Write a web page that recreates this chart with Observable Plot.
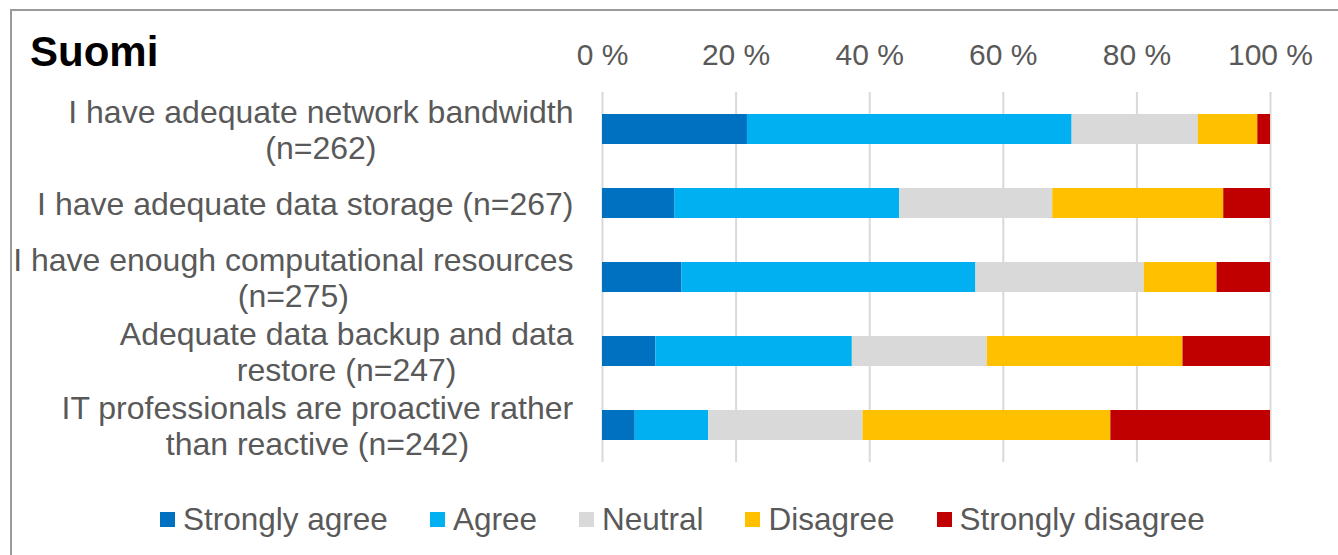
<!DOCTYPE html>
<html>
<head>
<meta charset="utf-8">
<script src="https://cdn.jsdelivr.net/npm/d3@7"></script>
<script src="https://cdn.jsdelivr.net/npm/@observablehq/plot@0.6"></script>
<style>
  html, body { margin: 0; padding: 0; background: #fff; }
  #wrap { position: relative; width: 1338px; height: 555px; overflow: hidden; font-family: "Liberation Sans", Arial, sans-serif; }
  #frame { position: absolute; left: 10px; top: 9px; width: 1340px; height: 560px; border: 2px solid #9a9a9a; box-sizing: border-box; }
  #title { position: absolute; left: 30px; top: 31px; font-size: 42px; line-height: 1; font-weight: bold; color: #000; }
  #chart { position: absolute; left: 0; top: 0; }
  #legend { position: absolute; left: 160px; top: 501px; display: flex; align-items: center; font-size: 31.5px; color: #595959; line-height: 1.15; }
  .item { display: flex; align-items: center; margin-right: 42px; }
  .sw { width: 15px; height: 15px; margin-right: 8px; }
</style>
</head>
<body>
<div id="wrap">
  <div id="frame"></div>
  <div id="chart"></div>
  <div id="title">Suomi</div>
  <div id="legend"></div>
</div>
<script>
// Categories (as displayed, with line breaks)
const categories = [
  "I have adequate network bandwidth\n(n=262)",
  "I have adequate data storage (n=267)",
  "I have enough computational resources\n(n=275)",
  "Adequate data backup and data\nrestore (n=247)",
  "IT professionals are proactive rather\nthan reactive (n=242)"
];
const levels = ["Strongly agree", "Agree", "Neutral", "Disagree", "Strongly disagree"];
const colors = ["#0070C0", "#00B0F0", "#D9D9D9", "#FFC000", "#C00000"];

// Percentages per level, one value per category
const stronglyAgree    = [21.7, 10.8, 11.9,  8.0,  4.9];
const agree            = [48.6, 33.7, 44.0, 29.4, 11.0];
const neutral          = [18.9, 22.9, 25.2, 20.2, 23.1];
const disagree         = [ 8.9, 25.6, 10.9, 29.3, 37.1];
const stronglyDisagree = [ 1.9,  7.0,  8.0, 13.1, 23.9];

const xTicks = [0, 20, 40, 60, 80, 100];
const tickLabel = d => d + " %";

const series = [stronglyAgree, agree, neutral, disagree, stronglyDisagree];
const rows = [];
categories.forEach((c, i) => {
  levels.forEach((lv, j) => rows.push({cat: c, level: lv, value: series[j][i]}));
});

const FONT = '"Liberation Sans", Arial, sans-serif';
const LABEL_SIZE = 32;
const ctx = document.createElement("canvas").getContext("2d");
ctx.font = `${LABEL_SIZE}px "Liberation Sans"`;
const blockWidth = s => Math.max(...s.split("\n").map(l => ctx.measureText(l).width));
const LABEL_GAP = 29;

const labelMarks = categories.map(c =>
  Plot.text([c], {
    y: d => d, text: d => d,
    frameAnchor: "left", textAnchor: "middle", lineAnchor: "middle",
    dx: -(LABEL_GAP + blockWidth(c) / 2),
    lineHeight: 1.12, fontSize: LABEL_SIZE, fill: "#595959"
  })
);

const chart = Plot.plot({
  width: 1338,
  height: 480,
  marginTop: 92,
  marginBottom: 18,
  marginLeft: 602,
  marginRight: 68,
  style: {fontFamily: FONT, background: "transparent", overflow: "visible"},
  x: {domain: [0, 100], ticks: xTicks},
  y: {domain: categories, paddingInner: 0.6, paddingOuter: 0.3, axis: null},
  color: {domain: levels, range: colors},
  marks: [
    Plot.gridX(xTicks, {stroke: "#d9d9d9", strokeOpacity: 1, strokeWidth: 2}),
    Plot.barX(rows, {x: "value", y: "cat", fill: "level", order: levels}),
    Plot.axisX({anchor: "top", ticks: xTicks, tickFormat: tickLabel, tickSize: 0, tickPadding: 28,
                fontSize: 30, fill: "#595959", label: null}),
    ...labelMarks
  ]
});
document.getElementById("chart").appendChild(chart);

const legend = document.getElementById("legend");
levels.forEach((lv, i) => {
  const it = document.createElement("div");
  it.className = "item";
  const sw = document.createElement("div");
  sw.className = "sw";
  sw.style.background = colors[i];
  const tx = document.createElement("span");
  tx.textContent = lv;
  it.appendChild(sw); it.appendChild(tx);
  legend.appendChild(it);
});
</script>
</body>
</html>
